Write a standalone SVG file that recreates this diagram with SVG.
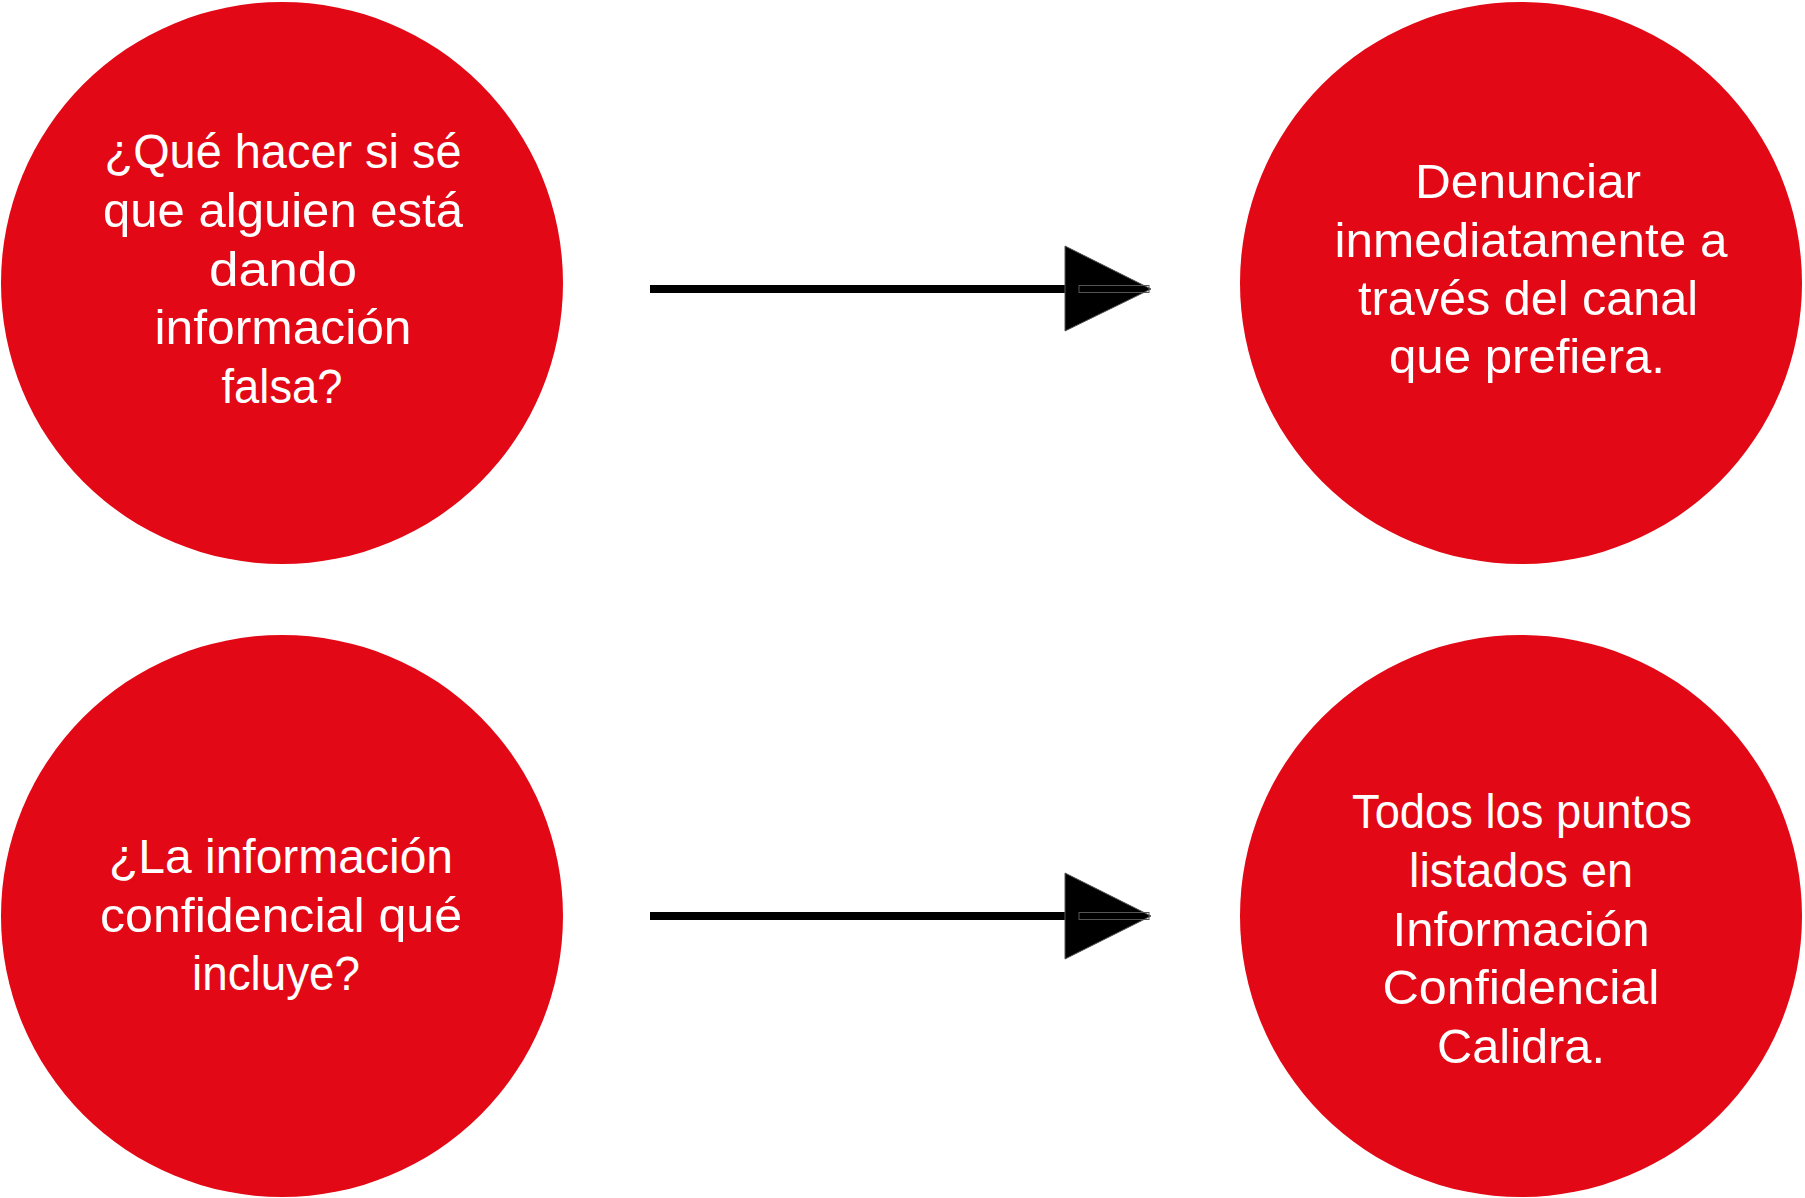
<svg xmlns="http://www.w3.org/2000/svg" width="1805" height="1198" viewBox="0 0 1805 1198">
  <style>
    .node circle { fill: #E20815; }
    .node text { fill: #FFFFFF; font-family: "Liberation Sans", Arial, sans-serif; font-size: 48px; text-anchor: middle; }
    .conn line { stroke: #000000; stroke-width: 8; }
    .conn polygon { fill: #000000; stroke: #555555; stroke-width: 1; }
    .conn rect { fill: none; stroke: #555555; stroke-width: 1; }
  </style>
  <rect width="1805" height="1198" fill="#FFFFFF"/>

  <g id="node-q1" class="node">
    <circle cx="282" cy="283" r="281"/>
    <text x="283" y="168" textLength="357" lengthAdjust="spacingAndGlyphs">¿Qué hacer si sé</text>
    <text x="283" y="227" textLength="360" lengthAdjust="spacingAndGlyphs">que alguien está</text>
    <text x="283" y="286" textLength="148" lengthAdjust="spacingAndGlyphs">dando</text>
    <text x="283" y="344" textLength="257" lengthAdjust="spacingAndGlyphs">información</text>
    <text x="282" y="403" textLength="121" lengthAdjust="spacingAndGlyphs">falsa?</text>
  </g>

  <g id="node-a1" class="node">
    <circle cx="1521" cy="283" r="281"/>
    <text x="1528" y="198" textLength="226" lengthAdjust="spacingAndGlyphs">Denunciar</text>
    <text x="1531" y="257" textLength="393" lengthAdjust="spacingAndGlyphs">inmediatamente a</text>
    <text x="1528" y="315" textLength="340" lengthAdjust="spacingAndGlyphs">través del canal</text>
    <text x="1527" y="373" textLength="276" lengthAdjust="spacingAndGlyphs">que prefiera.</text>
  </g>

  <g id="node-q2" class="node">
    <circle cx="282" cy="916" r="281"/>
    <text x="281" y="873" textLength="344" lengthAdjust="spacingAndGlyphs">¿La información</text>
    <text x="281" y="932" textLength="362" lengthAdjust="spacingAndGlyphs">confidencial qué</text>
    <text x="276" y="990" textLength="168" lengthAdjust="spacingAndGlyphs">incluye?</text>
  </g>

  <g id="node-a2" class="node">
    <circle cx="1521" cy="916" r="281"/>
    <text x="1522" y="828" textLength="340" lengthAdjust="spacingAndGlyphs">Todos los puntos</text>
    <text x="1521" y="887" textLength="224" lengthAdjust="spacingAndGlyphs">listados en</text>
    <text x="1521" y="946" textLength="257" lengthAdjust="spacingAndGlyphs">Información</text>
    <text x="1521" y="1004" textLength="277" lengthAdjust="spacingAndGlyphs">Confidencial</text>
    <text x="1521" y="1063" textLength="168" lengthAdjust="spacingAndGlyphs">Calidra.</text>
  </g>

  <g id="connectors" class="conn">
    <g id="edge-q1-a1">
      <line x1="650" y1="289" x2="1066" y2="289"/>
      <polygon points="1065,246 1151,289 1065,331"/>
      <rect x="1079" y="285.5" width="70" height="7"/>
    </g>
    <g id="edge-q2-a2">
      <line x1="650" y1="916" x2="1066" y2="916"/>
      <polygon points="1065,873 1151,916 1065,959"/>
      <rect x="1079" y="912.5" width="70" height="7"/>
    </g>
  </g>
</svg>
